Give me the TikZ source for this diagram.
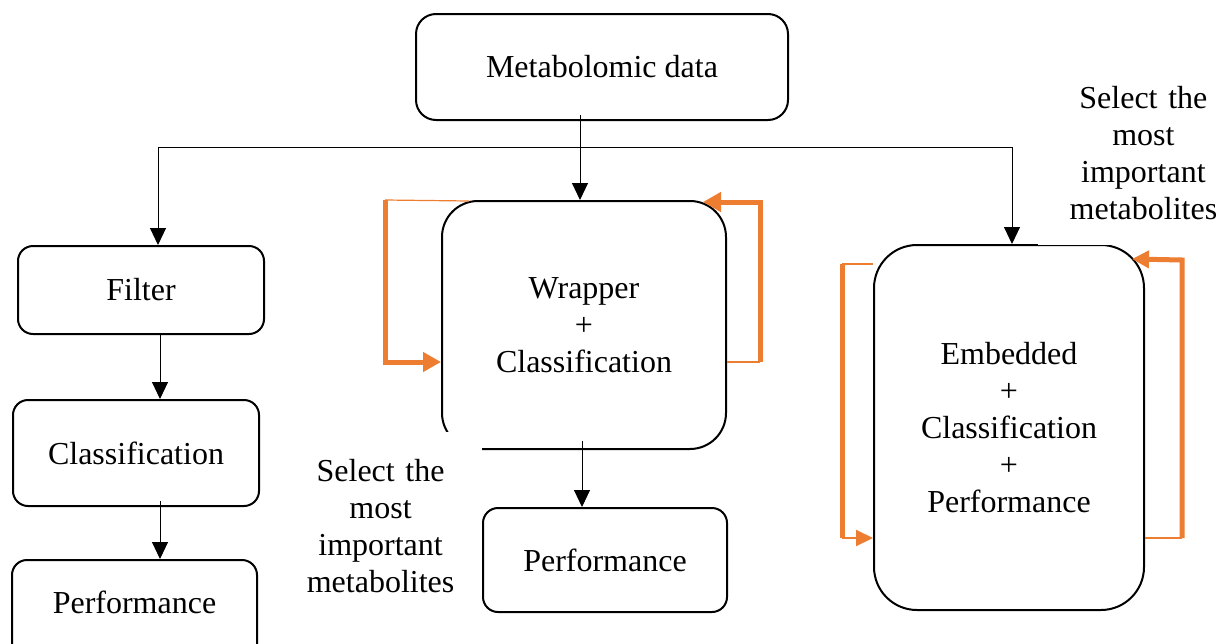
\documentclass[tikz,border=0pt]{standalone}
\usepackage{fontspec}
\setmainfont{Liberation Serif}
\usetikzlibrary{arrows.meta,calc}
\definecolor{loopor}{HTML}{ED7D31}
\begin{document}
\begin{tikzpicture}[x=0.5pt,y=-0.5pt,
  font=\fontsize{16}{18.4}\selectfont,
  box/.style={draw, line width=1pt, align=center, inner sep=0pt},
  conn/.style={line width=0.5pt},
  arr/.style={conn, -{Triangle[width=8pt,length=8.5pt]}},
  orthin/.style={draw=loopor, line width=0.6pt},
  orthick/.style={draw=loopor, line width=2.5pt},
  ortip/.style={-{Triangle[width=9.5pt,length=9pt]}},
  note/.style={fill=white, align=center, text width=80pt}]
\useasboundingbox (0,0) rectangle (1221,643);

% main boxes
\node[box, rounded corners=10pt, minimum width=186pt, minimum height=53pt] (meta) at (602,67) {Metabolomic data};
\node[box, rounded corners=7.5pt, minimum width=123pt, minimum height=44pt] (filter) at (141,290) {Filter};
\node[box, rounded corners=7.5pt, minimum width=123pt, minimum height=53pt] (cls) at (136,453) {Classification};
\node[box, rounded corners=7.5pt, minimum width=122.5pt, minimum height=52pt,
      label={[yshift=5pt]center:Performance}] (perfL) at (134.5,612) {};
\node[box, rounded corners=18pt, minimum width=142pt, minimum height=124pt] (wrap) at (584,325) {Wrapper\\+\\Classification};
\node[box, rounded corners=7.5pt, minimum width=122pt, minimum height=52pt] (perfM) at (605,560) {Performance};
\node[box, rounded corners=21.5pt, minimum width=135pt, minimum height=182.5pt] (emb) at (1009,427.5) {Embedded\\+\\Classification\\+\\Performance};

% side notes (their white ground hides part of the box outlines)
\node[note, inner xsep=10.5pt, inner ysep=13.5pt, anchor=north east] (selL) at (482,432) {Select the\\most\\important\\metabolites};
\node[note, inner xsep=12.5pt, inner ysep=12.5pt, anchor=south west] (selR) at (1038,245) {Select the\\most\\important\\metabolites};

% black connectors
\coordinate (split) at (580,147);
\coordinate (hl) at (158,147);
\coordinate (hr) at (1012,147);
\coordinate (lx) at (160,0);
\coordinate (mx) at (582,0);
\draw[arr] ($(meta.south -| split)+(0,-6)$) -- (wrap.north -| split);
\draw[conn] (hl) -- (hr);
\draw[arr] (hl) -- (hl |- filter.north);
\draw[arr] (hr) -- (hr |- emb.north);
\draw[arr] (filter.south -| lx) -- (cls.north -| lx);
\draw[arr] ($(cls.south -| lx)+(0,-6)$) -- (perfL.north -| lx);
\draw[arr] ($(wrap.south -| mx)+(0,-9)$) -- (perfM.north -| mx);

% wrapper feedback loop
\coordinate (wl1) at (385,200);
\coordinate (wl2) at (385,362);
\coordinate (wr1) at (760,362);
\coordinate (wr2) at (760,202);
\draw[orthin] ($(wrap.north west)+(28,1)$) -- (wl1);
\draw[orthick, ortip] (wl1) -- (wl2) -- (wl2 -| wrap.west);
\draw[orthin] (wl2 -| wrap.east) -- (wr1);
\draw[orthick, ortip] (wr1) -- (wr2) -- ($(wrap.north east)+(-24,2)$);

% embedded feedback loop
\coordinate (el1) at (842,264);
\coordinate (el2) at (842,538);
\coordinate (er1) at (1182,538);
\coordinate (er2) at (1182,260);
\draw[orthin] (el1 -| emb.west) -- (el1);
\draw[draw=loopor, line width=2.5pt] (el1) -- (el2);
\draw[draw=loopor, line width=1pt, -{Triangle[width=8pt,length=8.5pt]}] (el2) -- (el2 -| emb.west);
\draw[orthin] (er1 -| emb.east) -- (er1);
\draw[orthick, -{Triangle[width=8.5pt,length=8.5pt]}] (er1) -- (er2) -- ($(emb.north east)+(-13,15)$);
\end{tikzpicture}
\end{document}
